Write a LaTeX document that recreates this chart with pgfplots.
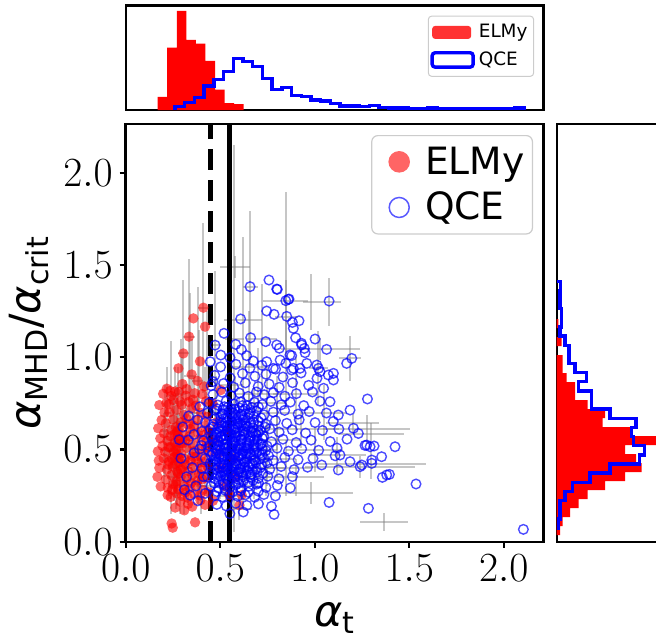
\documentclass[border=0pt]{standalone}
\usepackage{fontspec}
\setmainfont{DejaVu Sans}
\usepackage{pgfplots}
\pgfplotsset{compat=1.18}
\begin{document}
\begin{tikzpicture}
\useasboundingbox (-62.85pt,-48.65pt) rectangle (265.15pt,270.85pt);
% ---------------- main scatter ----------------
\begin{axis}[
  at={(0pt,0pt)}, anchor=south west, scale only axis,
  width=208.95pt, height=208.85pt,
  xmin=0, xmax=2.211, ymin=0, ymax=2.265,
  xtick={0,0.5,1,1.5,2}, ytick={0,0.5,1,1.5,2},
  xtick pos=bottom, ytick pos=left,
  tick align=outside, major tick length=3pt,
  every tick/.style={black, line width=1.1pt},
  axis line style={line width=1.2pt},
  tick label style={font=\fontsize{20}{24}\selectfont},
  x tick label style={/pgf/number format/fixed, /pgf/number format/fixed zerofill, /pgf/number format/precision=1},
  y tick label style={/pgf/number format/fixed, /pgf/number format/fixed zerofill, /pgf/number format/precision=1},
  xlabel={\textit{α}\textsubscript{t}},
  ylabel={\textit{α}\textsubscript{MHD}/\textit{α}\textsubscript{crit}},
  xlabel style={font=\fontsize{21.5}{26}\selectfont, at={(axis description cs:0.5,0)}, anchor=base, yshift=-42.3pt},
  ylabel style={font=\fontsize{21.5}{26}\selectfont, at={(axis description cs:-0.2312,0.5)}, anchor=center},
  legend cell align=left,
  legend style={at={(1,1)}, anchor=north east, xshift=-5.3pt, yshift=-5.5pt,
    font=\fontsize{18.8}{22}\selectfont, draw=black!20, line width=0.6pt, rounded corners=3pt,
    fill=white, fill opacity=0.8, text opacity=1, inner xsep=2pt, inner ysep=3.5pt, row sep=3.5pt},
]
% ELMy
\addplot[only marks, mark=*, mark size=2.6pt, mark options={fill=red, draw=red, fill opacity=0.6, draw opacity=0},
  legend image code/.code={\path (-6pt,0pt) (16pt,0pt); \fill[red, fill opacity=0.6, draw opacity=0] (5.4pt,0pt) circle (5.4pt);}]
coordinates {
(0.411,1.269) (0.358,1.211) (0.420,1.166) (0.335,1.112) (0.305,1.021) (0.393,0.978) (0.279,0.940)
(0.349,0.907) (0.380,0.872) (0.217,0.830) (0.300,0.855) (0.262,0.815) (0.178,0.741) (0.241,0.790)
(0.318,0.792) (0.405,0.800) (0.356,0.770) (0.228,0.745) (0.205,0.700) (0.288,0.760)
(0.243,0.099) (0.249,0.076) (0.367,0.105) (0.168,0.352) (0.289,0.217) (0.222,0.253) (0.330,0.205)
(0.262,0.185) (0.395,0.225) (0.310,0.170) (0.352,0.190) (0.420,0.200)
(0.172,0.615) (0.183,0.560) (0.170,0.490) (0.175,0.440) (0.185,0.300) (0.190,0.660) (0.178,0.400) (0.195,0.520)
(0.215,0.752) (0.252,0.768) (0.296,0.742) (0.333,0.758) (0.372,0.738) (0.425,0.762)
(0.198,0.802) (0.235,0.818) (0.282,0.812) (0.322,0.828) (0.365,0.805) (0.415,0.842)
(0.232,0.702) (0.268,0.714) (0.309,0.688) (0.348,0.722) (0.398,0.698) (0.431,0.677)
(0.212,0.642) (0.251,0.663) (0.292,0.648) (0.331,0.637) (0.372,0.659) (0.418,0.628)
(0.203,0.588) (0.242,0.607) (0.271,0.598) (0.302,0.581) (0.341,0.612) (0.383,0.592) (0.437,0.603)
(0.221,0.547) (0.259,0.538) (0.283,0.561) (0.314,0.552) (0.353,0.527) (0.392,0.558) (0.428,0.541)
(0.209,0.488) (0.238,0.512) (0.266,0.497) (0.293,0.478) (0.322,0.509) (0.361,0.491) (0.401,0.503) (0.442,0.482)
(0.201,0.452) (0.229,0.437) (0.258,0.461) (0.281,0.428) (0.312,0.449) (0.343,0.438) (0.372,0.463) (0.413,0.432)
(0.218,0.392) (0.249,0.408) (0.273,0.379) (0.301,0.402) (0.331,0.383) (0.362,0.411) (0.399,0.388) (0.433,0.407)
(0.212,0.338) (0.241,0.361) (0.268,0.328) (0.291,0.352) (0.323,0.341) (0.352,0.362) (0.381,0.332) (0.421,0.348)
(0.223,0.292) (0.252,0.311) (0.279,0.283) (0.308,0.302) (0.338,0.288) (0.371,0.309) (0.409,0.281)
(0.238,0.243) (0.271,0.262) (0.298,0.248) (0.329,0.238) (0.362,0.259) (0.392,0.251) (0.438,0.268)
(0.265,0.621) (0.275,0.572) (0.268,0.523) (0.272,0.472) (0.262,0.421) (0.278,0.368) (0.266,0.312)
(0.258,0.582) (0.282,0.452) (0.255,0.487) (0.285,0.618) (0.291,0.533)
(0.322,0.668) (0.361,0.628) (0.338,0.571) (0.301,0.532) (0.352,0.462) (0.388,0.428) (0.318,0.418)
(0.292,0.392) (0.347,0.318) (0.388,0.368) (0.245,0.282) (0.315,0.268) (0.228,0.512) (0.236,0.572)
(0.422,0.512) (0.412,0.578) (0.405,0.338) (0.398,0.462) (0.245,0.452) (0.225,0.418)
(0.472,0.552) (0.503,0.402) (0.521,0.302) (0.482,0.648) (0.548,0.252) (0.614,0.253) (0.583,0.352)
(0.462,0.222) (0.492,0.481) (0.532,0.598) (0.571,0.451) (0.602,0.198) (0.461,0.748) (0.503,0.822)
};
\addlegendentry{ELMy}
% QCE
\addplot[only marks, mark=o, mark size=2.4pt, mark options={draw=blue, draw opacity=0.7, line width=0.7pt},
  legend image code/.code={\path (-6pt,0pt) (16pt,0pt); \draw[blue, draw opacity=0.65, line width=0.75pt] (5.4pt,0pt) circle (5pt);}]
coordinates {
(0.758,1.419) (0.799,1.370) (0.658,1.383) (1.076,1.305) (0.847,1.307) (0.864,1.316) (0.746,1.251)
(0.785,1.233) (0.852,1.222) (0.882,1.189) (0.917,1.198) (0.608,1.208) (0.887,1.157) (0.520,1.130)
(0.661,1.106) (0.582,1.070) (0.741,1.085) (0.799,1.067) (0.899,1.106) (1.002,1.099) (0.931,1.067)
(0.945,1.048) (1.063,1.043) (0.878,1.009) (0.817,0.985) (0.640,1.009) (0.675,0.980) (0.746,0.976)
(0.781,0.940) (0.847,0.967) (0.887,0.940) (0.922,0.940) (0.958,0.967) (1.011,0.958) (1.028,0.922)
(1.072,0.904) (1.099,0.913) (1.196,0.994) (1.169,0.967) (1.279,0.774) (1.187,0.714) (1.125,0.687)
(1.081,0.759) (1.205,0.615) (1.231,0.587) (1.275,0.524) (1.293,0.515) (1.314,0.519) (1.425,0.515)
(1.354,0.461) (1.302,0.425) (1.240,0.407) (1.187,0.434) (1.134,0.470) (1.108,0.466) (1.037,0.416)
(1.125,0.389) (1.381,0.362) (1.395,0.365) (1.358,0.349) (1.536,0.313) (1.076,0.213) (1.284,0.181)
(0.785,0.148) (2.104,0.067) (1.266,0.522) (1.302,0.443) (1.249,0.416)
(0.802,1.368) (0.860,1.314) (0.930,1.076) (0.869,1.013) (0.813,1.049) (0.949,1.025) (0.878,0.931)
(1.020,0.940) (1.099,0.877) (0.473,1.066) (0.447,0.976) (0.503,1.012) (0.552,0.998) (0.612,1.042) (0.462,0.868)
(0.502,0.948) (0.583,0.962) (0.657,0.941) (0.721,0.957) (0.793,0.936)
(0.471,0.902) (0.552,0.889) (0.618,0.912) (0.684,0.897) (0.742,0.908) (0.832,0.893) (0.928,0.915) (1.012,0.886)
(0.452,0.846) (0.518,0.858) (0.571,0.838) (0.633,0.861) (0.701,0.842) (0.759,0.855) (0.812,0.837) (0.883,0.862) (0.968,0.848) (1.047,0.832)
(0.462,0.798) (0.509,0.811) (0.558,0.792) (0.602,0.806) (0.648,0.788) (0.692,0.812) (0.733,0.797) (0.781,0.808) (0.842,0.789) (0.903,0.803) (0.988,0.812)
(0.441,0.752) (0.487,0.741) (0.532,0.763) (0.571,0.747) (0.608,0.758) (0.643,0.738) (0.681,0.756) (0.722,0.744) (0.768,0.761) (0.822,0.742) (0.871,0.757) (0.942,0.738) (1.028,0.762)
(0.432,0.698) (0.472,0.712) (0.511,0.693) (0.548,0.706) (0.582,0.689) (0.621,0.711) (0.652,0.695) (0.691,0.708) (0.732,0.688) (0.781,0.703) (0.841,0.712) (0.912,0.692) (0.971,0.706) (1.062,0.698)
(0.421,0.648) (0.462,0.637) (0.501,0.658) (0.528,0.643) (0.561,0.652) (0.592,0.638) (0.622,0.661) (0.662,0.645) (0.701,0.654) (0.741,0.638) (0.792,0.657) (0.852,0.642) (0.918,0.661) (1.002,0.646) (1.098,0.652)
(0.402,0.598) (0.448,0.611) (0.482,0.592) (0.512,0.604) (0.541,0.588) (0.572,0.609) (0.601,0.596) (0.632,0.612) (0.671,0.591) (0.712,0.603) (0.762,0.612) (0.812,0.594) (0.881,0.607) (0.952,0.589) (1.041,0.603) (1.128,0.611)
(0.412,0.548) (0.458,0.558) (0.491,0.541) (0.521,0.553) (0.552,0.562) (0.581,0.544) (0.612,0.557) (0.641,0.539) (0.681,0.552) (0.722,0.561) (0.771,0.542) (0.832,0.556) (0.902,0.538) (0.981,0.551) (1.082,0.543) (1.171,0.556)
(0.391,0.502) (0.441,0.491) (0.472,0.508) (0.503,0.496) (0.532,0.511) (0.562,0.492) (0.591,0.505) (0.621,0.489) (0.652,0.503) (0.692,0.512) (0.741,0.494) (0.801,0.507) (0.861,0.491) (0.931,0.504) (1.021,0.496) (1.118,0.508)
(0.421,0.452) (0.462,0.441) (0.492,0.458) (0.522,0.446) (0.551,0.455) (0.582,0.439) (0.612,0.451) (0.642,0.462) (0.681,0.443) (0.731,0.454) (0.781,0.441) (0.842,0.457) (0.912,0.445) (0.991,0.452)
(0.403,0.398) (0.452,0.407) (0.481,0.391) (0.512,0.403) (0.541,0.388) (0.572,0.409) (0.602,0.394) (0.631,0.405) (0.671,0.389) (0.712,0.402) (0.762,0.393) (0.822,0.408) (0.891,0.391) (0.962,0.404)
(0.432,0.352) (0.471,0.341) (0.502,0.356) (0.532,0.343) (0.561,0.358) (0.592,0.339) (0.621,0.351) (0.661,0.362) (0.702,0.344) (0.752,0.355) (0.811,0.341) (0.882,0.353)
(0.451,0.302) (0.491,0.291) (0.522,0.306) (0.551,0.293) (0.582,0.308) (0.612,0.289) (0.652,0.301) (0.691,0.312) (0.742,0.294) (0.802,0.305) (0.871,0.292)
(0.472,0.251) (0.512,0.243) (0.551,0.258) (0.592,0.246) (0.632,0.254) (0.682,0.241) (0.731,0.256) (0.792,0.248)
(0.482,0.202) (0.532,0.194) (0.582,0.208) (0.641,0.197) (0.702,0.205) (0.771,0.192) (0.551,0.152) (0.622,0.161)
(0.496,0.623) (0.536,0.627) (0.576,0.628) (0.612,0.632) (0.648,0.622) (0.506,0.572) (0.546,0.578) (0.586,0.573)
(0.626,0.581) (0.662,0.571) (0.487,0.522) (0.527,0.528) (0.567,0.523) (0.607,0.531) (0.642,0.521) (0.677,0.527)
(0.497,0.472) (0.537,0.477) (0.577,0.471) (0.617,0.478) (0.657,0.482) (0.507,0.422) (0.547,0.428) (0.587,0.421)
(0.627,0.431) (0.667,0.424) (0.557,0.372) (0.597,0.378) (0.637,0.368) (0.517,0.381) (0.687,0.587) (0.707,0.478)
(0.717,0.532) (0.471,0.563) (0.461,0.477) (0.537,0.668) (0.597,0.678) (0.557,0.722) (0.617,0.738) (0.522,0.732)
(0.302,0.622) (0.331,0.551) (0.362,0.482) (0.381,0.661) (0.352,0.402) (0.322,0.352) (0.292,0.452) (0.371,0.302)
(0.341,0.252) (0.401,0.522) (0.392,0.732) (0.311,0.282) (0.362,0.582) (0.411,0.352) (0.283,0.553) (0.333,0.682)
(0.382,0.222) (0.421,0.262)
(0.468,0.318) (0.493,0.327) (0.518,0.314) (0.543,0.331) (0.566,0.322) (0.597,0.316) (0.622,0.329) (0.648,0.321) (0.674,0.333) (0.703,0.318)
(0.458,0.372) (0.486,0.366) (0.509,0.378) (0.538,0.362) (0.563,0.381) (0.589,0.368) (0.613,0.376) (0.642,0.384) (0.668,0.366) (0.696,0.378) (0.727,0.371)
(0.447,0.426) (0.471,0.418) (0.498,0.431) (0.524,0.416) (0.553,0.437) (0.578,0.424) (0.604,0.418) (0.633,0.433) (0.659,0.421) (0.688,0.429) (0.718,0.417) (0.748,0.428)
(0.452,0.468) (0.478,0.479) (0.508,0.463) (0.533,0.487) (0.556,0.471) (0.583,0.482) (0.609,0.466) (0.636,0.478) (0.662,0.469) (0.691,0.483) (0.721,0.471) (0.756,0.466)
(0.443,0.521) (0.467,0.532) (0.496,0.516) (0.518,0.527) (0.546,0.518) (0.572,0.534) (0.598,0.521) (0.628,0.514) (0.654,0.532) (0.682,0.518) (0.712,0.526) (0.748,0.519)
(0.451,0.571) (0.477,0.583) (0.502,0.567) (0.528,0.579) (0.553,0.586) (0.579,0.566) (0.606,0.574) (0.634,0.588) (0.658,0.563) (0.692,0.578) (0.731,0.571)
(0.461,0.622) (0.487,0.614) (0.512,0.628) (0.548,0.617) (0.583,0.619) (0.602,0.641) (0.638,0.629) (0.672,0.617) (0.703,0.628) (0.738,0.621)
(0.472,0.668) (0.503,0.681) (0.528,0.671) (0.563,0.682) (0.588,0.664) (0.618,0.683) (0.648,0.671) (0.678,0.679) (0.716,0.672)
(0.483,0.721) (0.513,0.714) (0.542,0.731) (0.576,0.718) (0.601,0.726) (0.633,0.719) (0.668,0.728) (0.702,0.731)
(0.482,0.272) (0.528,0.278) (0.566,0.271) (0.608,0.276) (0.648,0.268) (0.702,0.274)
(0.484,0.352) (0.527,0.361) (0.574,0.347) (0.618,0.362) (0.661,0.351)
(0.492,0.402) (0.531,0.396) (0.566,0.412) (0.609,0.399) (0.652,0.408) (0.692,0.396)
(0.476,0.447) (0.516,0.458) (0.559,0.444) (0.598,0.462) (0.639,0.447) (0.678,0.458) (0.711,0.448)
(0.482,0.497) (0.521,0.504) (0.561,0.509) (0.601,0.498) (0.642,0.507) (0.681,0.496) (0.722,0.503)
(0.488,0.548) (0.531,0.557) (0.568,0.543) (0.611,0.552) (0.652,0.546) (0.697,0.553)
(0.498,0.597) (0.538,0.604) (0.579,0.591) (0.621,0.601) (0.662,0.597) (0.702,0.592)
(0.507,0.646) (0.551,0.638) (0.592,0.652) (0.633,0.642) (0.676,0.648)
(0.512,0.692) (0.566,0.699) (0.611,0.691) (0.659,0.702)
};
\addlegendentry{QCE}
% error bars
\addplot[draw=none, mark=none, forget plot,
  error bars/.cd, x dir=both, x explicit, y dir=both, y explicit, error mark=none,
  error bar style={draw=gray, opacity=0.45, line width=1pt}]
coordinates {
(0.847,1.307) +- (0.12,0.59)
(0.575,1.100) +- (0.05,1.05)
(0.658,1.383) +- (0.04,0.41)
(0.411,1.269) +- (0.03,0.46)
(0.335,1.112) +- (0.03,0.42)
(0.305,1.021) +- (0.03,0.40)
(0.241,0.790) +- (0.03,0.30)
(0.380,0.872) +- (0.03,0.51)
(0.474,1.066) +- (0.03,0.40)
(1.077,1.302) +- (0.06,0.13)
(0.980,1.300) +- (0.04,0.15)
(0.850,1.220) +- (0.06,0.20)
(1.020,0.940) +- (0.05,0.20)
(1.030,1.043) +- (0.21,0.06)
(0.579,1.491) +- (0.079,0.06)
(1.200,0.642) +- (0.14,0.05)
(1.275,0.609) +- (0.23,0.08)
(1.300,0.582) +- (0.17,0.06)
(1.300,0.419) +- (0.29,0.08)
(1.240,0.407) +- (0.29,0.06)
(1.367,0.108) +- (0.125,0.05)
(0.980,0.262) +- (0.22,0.06)
(1.187,0.994) +- (0.06,0.12)
(0.930,0.610) +- (0.20,0.10)
(0.750,0.450) +- (0.15,0.15)
(0.900,0.350) +- (0.15,0.10)
(0.700,0.800) +- (0.12,0.25)
(0.800,0.700) +- (0.10,0.20)
(0.650,0.950) +- (0.10,0.30)
(0.550,0.850) +- (0.07,0.40)
(0.620,1.200) +- (0.10,0.45)
(0.720,1.100) +- (0.08,0.30)
(0.270,0.550) +- (0.02,0.30)
(0.270,0.450) +- (0.02,0.25)
(0.260,0.600) +- (0.02,0.35)
(0.280,0.500) +- (0.02,0.20)
(0.300,0.650) +- (0.02,0.35)
(0.220,0.700) +- (0.02,0.25)
(0.350,0.700) +- (0.03,0.40)
(0.200,0.500) +- (0.02,0.20)
(0.330,0.400) +- (0.02,0.20)
(0.380,0.500) +- (0.03,0.30)
(0.420,0.600) +- (0.03,0.35)
(0.310,0.300) +- (0.02,0.15)
(0.240,0.350) +- (0.02,0.20)
(0.400,0.300) +- (0.03,0.15)
(0.290,0.800) +- (0.03,0.30)
(0.255,0.500) +- (0.02,0.28)
(0.265,0.400) +- (0.02,0.22)
(0.275,0.650) +- (0.02,0.30)
(0.285,0.350) +- (0.02,0.20)
(0.250,0.550) +- (0.02,0.25)
(0.320,0.550) +- (0.02,0.30)
(0.230,0.450) +- (0.02,0.20)
(0.360,0.600) +- (0.03,0.30)
(0.390,0.700) +- (0.03,0.45)
(0.430,0.750) +- (0.03,0.50)
(0.210,0.600) +- (0.02,0.25)
(0.340,0.900) +- (0.03,0.45)
(0.500,0.550) +- (0.06,0.15)
(0.550,0.500) +- (0.07,0.20)
(0.600,0.450) +- (0.08,0.15)
(0.650,0.600) +- (0.09,0.20)
(0.520,0.400) +- (0.06,0.15)
(0.700,0.500) +- (0.10,0.18)
(0.580,0.650) +- (0.07,0.25)
(0.800,0.550) +- (0.12,0.20)
(0.620,0.300) +- (0.08,0.12)
(0.850,0.400) +- (0.13,0.15)
(0.480,0.700) +- (0.05,0.20)
(0.750,0.750) +- (0.10,0.20)
(0.680,0.350) +- (0.09,0.12)
(0.900,0.800) +- (0.12,0.20)
(1.050,0.700) +- (0.12,0.15)
(1.120,0.470) +- (0.15,0.10)
(1.000,0.500) +- (0.15,0.12)
(0.560,0.250) +- (0.07,0.10)
(0.450,0.300) +- (0.05,0.10)
(0.600,0.180) +- (0.07,0.06)
(0.530,0.450) +- (0.07,0.18)
(0.630,0.500) +- (0.08,0.20)
(0.570,0.380) +- (0.07,0.15)
(0.680,0.620) +- (0.09,0.22)
(0.500,0.350) +- (0.06,0.12)
(0.600,0.580) +- (0.08,0.20)
(0.740,0.400) +- (0.10,0.15)
(0.460,0.500) +- (0.05,0.15)
};
% threshold lines
\addplot[forget plot, black, line width=2.5pt, dash pattern=on 10.5pt off 5pt] coordinates {(0.45,0) (0.45,2.265)};
\addplot[forget plot, black, line width=2.5pt] coordinates {(0.55,0) (0.55,2.265)};
\end{axis}
% ---------------- top histogram ----------------
\begin{axis}[
  at={(0pt,215.85pt)}, anchor=south west, scale only axis,
  width=208.95pt, height=52.35pt,
  xmin=0, xmax=2.211, ymin=0, ymax=314,
  ticks=none, axis line style={line width=1.2pt},
  legend cell align=left,
  legend style={at={(1,1)}, anchor=north east, xshift=-4.8pt, yshift=-5.2pt,
    font=\fontsize{9.2}{11}\selectfont, draw=black!20, line width=0.5pt, rounded corners=1.5pt,
    fill=white, fill opacity=0.8, text opacity=1, inner xsep=1pt, inner ysep=2pt, row sep=1.5pt},
]
\addplot[ybar interval, fill=red, draw=none,
  legend image code/.code={\fill[red] (0pt,-3.25pt) rectangle (19.5pt,3.25pt);}]
coordinates {(0.169,39) (0.2196,187) (0.2702,297) (0.3208,210) (0.3714,199) (0.422,147) (0.4726,61) (0.5232,21) (0.5738,18) (0.6244,0)};
\addlegendentry{ELMy}
\addplot[const plot, blue, line width=1.7pt,
  legend image code/.code={\draw[blue, line width=1.7pt, fill=white] (0pt,-3.6pt) rectangle (20.5pt,3.6pt);}]
coordinates {(0.261,0) (0.261,10) (0.3124,22) (0.3638,37) (0.4152,72) (0.4666,92) (0.518,115) (0.5694,155)
(0.6208,145) (0.6722,130) (0.7236,95) (0.775,62) (0.8264,68) (0.8778,43) (0.9292,40) (0.9806,30) (1.032,27)
(1.0834,20) (1.1348,12) (1.1862,12) (1.2376,10) (1.289,14) (1.3404,8) (1.3918,6) (1.4432,6) (1.4946,5) (1.546,5)
(1.5974,6) (1.6488,5) (1.7002,5) (1.7516,5) (1.803,5) (1.8544,5) (1.9058,5) (1.9572,5) (2.0086,5) (2.06,6) (2.1114,0)};
\addlegendentry{QCE}
\end{axis}
% ---------------- right histogram ----------------
\begin{axis}[
  at={(215.5pt,0pt)}, anchor=south west, scale only axis,
  width=71.65pt, height=208.85pt,
  xmin=0, xmax=430, ymin=0, ymax=2.265,
  ticks=none, axis line style={line width=1.2pt},
]
\addplot[xbar interval, fill=red, draw=none]
coordinates {(10,0.0363) (18,0.0851) (40,0.1339) (66,0.1827) (93,0.2315) (145,0.2803) (205,0.3291) (255,0.3779)
(238,0.4267) (205,0.4755) (330,0.5243) (223,0.5731) (138,0.6219) (145,0.6707) (93,0.7195) (55,0.7683) (55,0.8171)
(30,0.8659) (18,0.9147) (18,0.9635) (0,1.0123) (15,1.0611) (0,1.1099) (5,1.1587) (0,1.2075)};
\addplot[const plot, blue, line width=1.7pt]
coordinates {(0,0.0747) (5,0.1242) (10,0.1738) (10,0.2233) (25,0.2728) (48,0.3224) (100,0.3719) (160,0.4214)
(248,0.4710) (263,0.5205) (230,0.5700) (225,0.6195) (238,0.6691) (160,0.7186) (105,0.7681) (105,0.8177)
(65,0.8672) (90,0.9167) (55,0.9663) (37,1.0158) (37,1.0653) (25,1.1148) (10,1.1644) (15,1.2139) (15,1.2634)
(10,1.3130) (10,1.3625) (12,1.4120) (0,1.4120)};
\end{axis}
\end{tikzpicture}
\end{document}
